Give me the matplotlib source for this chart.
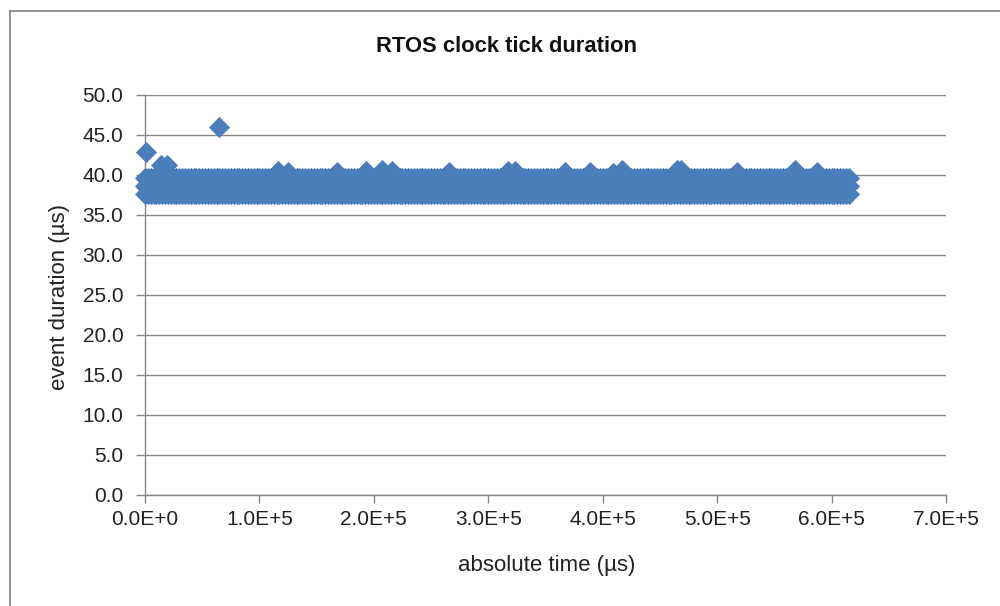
import matplotlib
matplotlib.use("Agg")
import matplotlib.pyplot as plt
from matplotlib.lines import Line2D
from matplotlib.ticker import FuncFormatter

plt.rcParams['font.family'] = ['Liberation Sans', 'DejaVu Sans']

# ---- data ----
# periodic clock-tick events (ms), dense band of durations
tick_times_ms = [
    0, 2.5, 5, 7.5, 10, 12.5, 15, 17.5, 20, 22.5, 25, 27.5, 30, 32.5, 35, 37.5, 40, 42.5,
    45, 47.5, 50, 52.5, 55, 57.5, 60, 62.5, 65, 67.5, 70, 72.5, 75, 77.5, 80, 82.5, 85,
    87.5, 90, 92.5, 95, 97.5, 100, 102.5, 105, 107.5, 110, 112.5, 115, 117.5, 120, 122.5,
    125, 127.5, 130, 132.5, 135, 137.5, 140, 142.5, 145, 147.5, 150, 152.5, 155, 157.5,
    160, 162.5, 165, 167.5, 170, 172.5, 175, 177.5, 180, 182.5, 185, 187.5, 190, 192.5,
    195, 197.5, 200, 202.5, 205, 207.5, 210, 212.5, 215, 217.5, 220, 222.5, 225, 227.5,
    230, 232.5, 235, 237.5, 240, 242.5, 245, 247.5, 250, 252.5, 255, 257.5, 260, 262.5,
    265, 267.5, 270, 272.5, 275, 277.5, 280, 282.5, 285, 287.5, 290, 292.5, 295, 297.5,
    300, 302.5, 305, 307.5, 310, 312.5, 315, 317.5, 320, 322.5, 325, 327.5, 330, 332.5,
    335, 337.5, 340, 342.5, 345, 347.5, 350, 352.5, 355, 357.5, 360, 362.5, 365, 367.5,
    370, 372.5, 375, 377.5, 380, 382.5, 385, 387.5, 390, 392.5, 395, 397.5, 400, 402.5,
    405, 407.5, 410, 412.5, 415, 417.5, 420, 422.5, 425, 427.5, 430, 432.5, 435, 437.5,
    440, 442.5, 445, 447.5, 450, 452.5, 455, 457.5, 460, 462.5, 465, 467.5, 470, 472.5,
    475, 477.5, 480, 482.5, 485, 487.5, 490, 492.5, 495, 497.5, 500, 502.5, 505, 507.5,
    510, 512.5, 515, 517.5, 520, 522.5, 525, 527.5, 530, 532.5, 535, 537.5, 540, 542.5,
    545, 547.5, 550, 552.5, 555, 557.5, 560, 562.5, 565, 567.5, 570, 572.5, 575, 577.5,
    580, 582.5, 585, 587.5, 590, 592.5, 595, 597.5, 600, 602.5, 605, 607.5, 610, 612.5,
    615,
]
band_levels_us = [37.6, 38.6, 39.6]

# occasional longer ticks
peak_times_ms = [1, 14, 19, 65, 116, 125, 168, 193, 207, 216, 266, 317, 323,
                 367, 389, 409, 417, 465, 468, 517, 568, 587]
peak_durations_us = [42.9, 41.3, 41.3, 46.0, 40.5, 40.4, 40.4, 40.5, 40.6, 40.5,
                     40.4, 40.5, 40.5, 40.4, 40.4, 40.2, 40.6, 40.6, 40.6, 40.4,
                     40.6, 40.4]

x_ticks = [0, 100000, 200000, 300000, 400000, 500000, 600000, 700000]
y_ticks = [0, 5, 10, 15, 20, 25, 30, 35, 40, 45, 50]

# ---- figure ----
W, H = 1000, 606
fig = plt.figure(figsize=(W / 100, H / 100), dpi=100)
fig.patch.set_facecolor('white')

ax = fig.add_axes([145 / W, 1 - 495 / H, (946 - 145) / W, (495 - 95) / H])

blue = '#4a7ebb'
gray = '#868686'

for lvl in band_levels_us:
    ax.plot([t * 1000 for t in tick_times_ms], [lvl] * len(tick_times_ms),
            linestyle='none', marker='D', markersize=10.2, color=blue,
            markeredgecolor=blue, markeredgewidth=0.6, clip_on=False, zorder=3)
ax.plot([t * 1000 for t in peak_times_ms], peak_durations_us,
        linestyle='none', marker='D', markersize=10.2, color=blue,
        markeredgecolor=blue, markeredgewidth=0.6, clip_on=False, zorder=3)

ax.set_xlim(0, 700000)
ax.set_ylim(0, 50)
ax.set_xticks(x_ticks)
ax.set_yticks(y_ticks)


def sci_fmt(v, pos):
    if v == 0:
        return '0.0E+0'
    e = 0
    m = v
    while abs(m) >= 10:
        m /= 10
        e += 1
    return f'{m:.1f}E+{e}'


ax.xaxis.set_major_formatter(FuncFormatter(sci_fmt))
ax.yaxis.set_major_formatter(FuncFormatter(lambda v, p: f'{v:.1f}'))

ax.grid(axis='y', color=gray, linewidth=1.0, zorder=0)
ax.grid(axis='x', visible=False)
ax.set_axisbelow(True)
for s in ['top', 'right']:
    ax.spines[s].set_visible(False)
for s in ['left', 'bottom']:
    ax.spines[s].set_color(gray)
    ax.spines[s].set_linewidth(1.0)

ax.tick_params(axis='y', direction='out', length=6.5, width=1.0, color=gray,
               labelsize=15, pad=9, labelcolor='#222222')
ax.tick_params(axis='x', direction='out', length=6, width=1.0, color=gray,
               labelsize=15, pad=5, labelcolor='#222222')

fig.text(507 / W, 1 - 47 / H, 'RTOS clock tick duration', ha='center', va='center',
         fontsize=15.8, fontweight='bold', color='#111111')
fig.text(547 / W, 1 - 565 / H, 'absolute time (µs)', ha='center', va='center',
         fontsize=16, color='#222222')
fig.text(60 / W, 1 - 297 / H, 'event duration (µs)', ha='center', va='center',
         rotation=90, fontsize=16, color='#222222')

# chart-area border (left and top visible)
fig.add_artist(Line2D([10 / W, 10 / W], [0, 1 - 11 / H], transform=fig.transFigure,
                      color='#8a8a8a', linewidth=1.3))
fig.add_artist(Line2D([10 / W, 1], [1 - 11 / H, 1 - 11 / H], transform=fig.transFigure,
                      color='#8a8a8a', linewidth=1.3))

fig.savefig('out.png', dpi=100)
